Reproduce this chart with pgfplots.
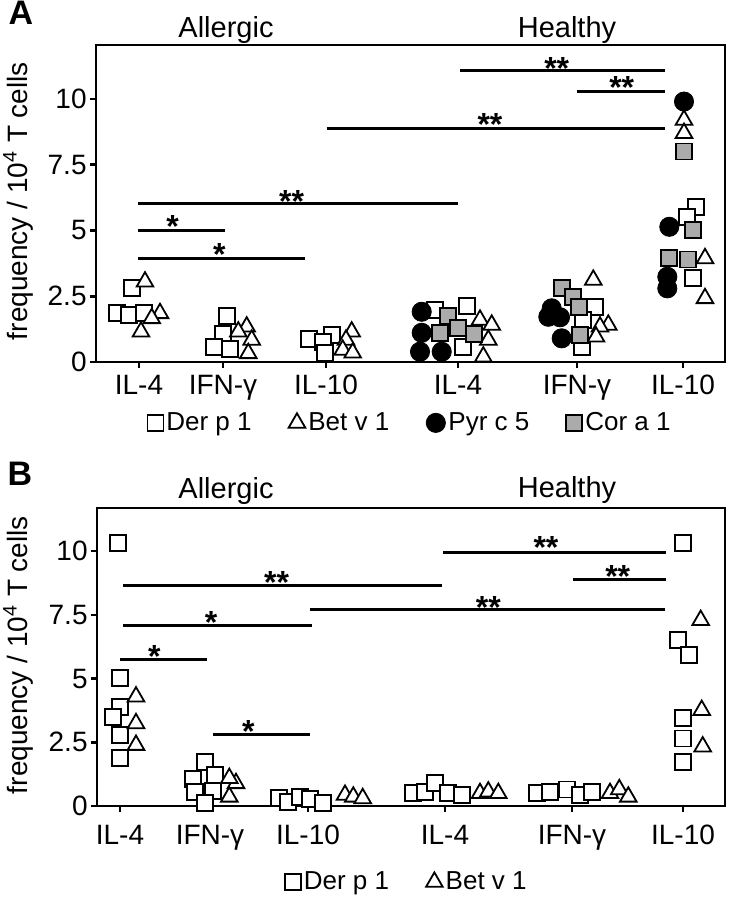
\documentclass[border=0pt]{standalone}
\usepackage{fontspec}
\setmainfont{Liberation Sans}
\usepackage{pgfplots}
\pgfplotsset{compat=1.18}
\newcommand{\fs}{\fontsize{14}{16}\selectfont}
\newcommand{\lfs}{\fontsize{13}{15}\selectfont}
\newcommand{\sfs}{\fontsize{16}{18}\selectfont\bfseries}
\pgfplotsset{
  panel/.style={
    scale only axis, clip=false,
    axis line style={line width=1.3pt},
    tick style={line width=1.3pt, black},
    major tick length=3pt, tick align=outside, tick pos=left,
    ymin=0, ytick={0,2.5,5,7.5,10}, yticklabels={0,2.5,5,7.5,10},
    xticklabels={IL-4,IFN-γ,IL-10,IL-4,IFN-γ,IL-10},
    tick label style={font=\fs},
    yticklabel style={inner sep=1.5pt},
    legend style={draw=none, font=\lfs, nodes={inner sep=1.5pt}},
    legend image code/.code={\draw[mark repeat=2,mark phase=2,##1] plot coordinates {(0cm,0cm) (0.16cm,0cm) (0.32cm,0cm)};},
    /tikz/every even column/.append style={column sep=17pt},
  },
  sq/.style={only marks, mark=square*, mark size=4pt, mark options={fill=white, draw=black, line width=0.9pt}},
  tri/.style={only marks, mark=triangle*, mark size=4.8pt, mark options={fill=white, draw=black, line width=0.9pt}},
  circ/.style={only marks, mark=*, mark size=4.8pt, mark options={fill=black, draw=black}},
  chk/.style={only marks, mark=square*, mark size=4pt, mark options={fill=black!33, draw=black, line width=0.9pt}},
  sig/.style={no marks, line width=1.5pt, black, forget plot},
  frame/.style={no marks, line width=1.4pt, black, forget plot, line join=miter},
}
\begin{document}
\begin{tikzpicture}
\useasboundingbox (0,0) rectangle (367pt,-450pt);
% ---------------- Panel A ----------------
\begin{axis}[panel, at={(48pt,-22.5pt)}, anchor=north west,
  width=314.5pt, height=158.5pt,
  xmin=96, xmax=725, ymax=12.05,
  xtick={139,223,326,458,577,683},
  legend columns=4,
  legend style={at={(0.5,-0.192)}, anchor=center}]
\addlegendimage{sq}\addlegendentry{Der p 1}
\addlegendimage{tri}\addlegendentry{Bet v 1}
\addlegendimage{circ}\addlegendentry{Pyr c 5}
\addlegendimage{chk}\addlegendentry{Cor a 1}
\addplot[frame] coordinates {(96,0) (96,12.05) (725,12.05) (725,0) (96,0)};
% Der p 1
\addplot[sq, forget plot] coordinates {(131.7,2.80) (117.3,1.87) (129,1.79) (144,1.85) (226.7,1.75) (223.3,1.06) (214,0.58) (230,0.48) (309.3,0.86) (331.7,1.03) (323.3,0.77) (325,0.35)
 (435,1.98) (467.3,2.13) (463.3,0.58) (595,2.10) (582.7,1.60) (581.7,0.58) (696,5.88) (686.7,5.52) (692.7,3.18)};
% Bet v 1
\addplot[tri, forget plot] coordinates {(145,3.05) (160,1.85) (151.7,1.66) (141,1.15) (246.7,1.34) (238.3,1.15) (251.7,0.84) (248.3,0.33) (351.7,1.15) (346,0.84) (342.7,0.46) (352.7,0.35)
 (480,1.60) (491.7,1.41) (488.3,0.84) (483.3,0.20) (593.3,3.12) (608.3,1.41) (600,1.34) (596,0.96) (684,9.20) (684,8.70) (705,3.94) (705,2.42)};
% Cor a 1
\addplot[chk, forget plot] coordinates {(447.7,1.75) (458.3,1.28) (440,1.09) (474,1.06) (561.7,2.80) (573.3,2.48) (579.3,2.10) (580,1.03) (684,8.00) (693.3,5.02) (669.3,3.94) (688.3,3.90)};
% Pyr c 5
\addplot[circ, forget plot] coordinates {(421.7,1.91) (421.7,1.11) (420,0.39) (441.7,0.39) (551.7,2.04) (548.3,1.72) (560,1.70) (561.7,0.90) (684,9.90) (669.3,5.14) (667.3,3.24) (667.3,2.80)};
% significance
\addplot[sig] coordinates {(138,6.01) (458,6.01)};
\addplot[sig] coordinates {(138,4.99) (225,4.99)};
\addplot[sig] coordinates {(138,3.93) (305,3.93)};
\addplot[sig] coordinates {(326.7,8.89) (665,8.89)};
\addplot[sig] coordinates {(460,11.08) (665,11.08)};
\addplot[sig] coordinates {(576.7,10.30) (665,10.30)};
\node[font=\sfs, anchor=base] at (axis cs:291.7,5.70) {**};
\node[font=\sfs, anchor=base] at (axis cs:172.7,4.75) {*};
\node[font=\sfs, anchor=base] at (axis cs:219.3,3.67) {*};
\node[font=\sfs, anchor=base] at (axis cs:490,8.62) {**};
\node[font=\sfs, anchor=base] at (axis cs:556.7,10.75) {**};
\node[font=\sfs, anchor=base] at (axis cs:621.7,10.01) {**};
\end{axis}
% ---------------- Panel B ----------------
\begin{axis}[panel, at={(48.5pt,-254pt)}, anchor=north west,
  width=314pt, height=149pt,
  xmin=97, xmax=725, ymax=11.69,
  xtick={120,210,308,445,572,683},
  xticklabel style={yshift=-3pt},
  legend columns=2,
  legend style={at={(0.494,-0.255)}, anchor=center}]
\addlegendimage{sq}\addlegendentry{Der p 1}
\addlegendimage{tri}\addlegendentry{Bet v 1}
\addplot[frame] coordinates {(97,0) (97,11.69) (725,11.69) (725,0) (97,0)};
\addplot[sq, forget plot] coordinates {(118.3,10.33) (120,5.01) (120,3.89) (112.7,3.50) (120,2.78) (120,1.87) (205,1.74) (193.3,1.05) (215,1.22) (195,0.56) (213.3,0.60) (205,0.11) (279.3,0.30) (288.3,0.17) (300,0.36) (310,0.26) (323.3,0.13)
 (413.3,0.50) (425,0.56) (435,0.89) (448.3,0.50) (461.7,0.43) (537.3,0.50) (550,0.56) (566.7,0.65) (580,0.43) (591.7,0.56) (683.3,10.33) (677.7,6.51) (689.3,5.92) (683.3,3.44) (683.3,2.65) (683.3,1.74)};
\addplot[tri, forget plot] coordinates {(136,4.29) (136,3.24) (136,2.39) (236,0.89) (229.3,1.09) (229.3,0.36) (345,0.43) (353.3,0.36) (362.7,0.30) (480,0.50) (488.3,0.56) (498.3,0.50) (610,0.50) (619.3,0.65) (628.3,0.36) (700.7,7.29) (701.7,3.76) (702.7,2.33)};
\addplot[sig] coordinates {(123.3,8.65) (441.7,8.65)};
\addplot[sig] coordinates {(123.3,7.07) (311.7,7.07)};
\addplot[sig] coordinates {(120,5.73) (206.7,5.73)};
\addplot[sig] coordinates {(212.7,2.81) (310,2.81)};
\addplot[sig] coordinates {(310,7.69) (665,7.69)};
\addplot[sig] coordinates {(443.3,9.95) (666,9.95)};
\addplot[sig] coordinates {(572.7,8.90) (666,8.90)};
\node[font=\sfs, anchor=base] at (axis cs:276.7,8.32) {**};
\node[font=\sfs, anchor=base] at (axis cs:211,6.76) {*};
\node[font=\sfs, anchor=base] at (axis cs:154.3,5.45) {*};
\node[font=\sfs, anchor=base] at (axis cs:248.3,2.51) {*};
\node[font=\sfs, anchor=base] at (axis cs:488.3,7.35) {**};
\node[font=\sfs, anchor=base] at (axis cs:546,9.70) {**};
\node[font=\sfs, anchor=base] at (axis cs:617.7,8.59) {**};
\end{axis}
% ---------------- texts ----------------
\begin{scope}[x=0.5pt, y=-0.5pt]
\node[font=\fontsize{17}{19}\selectfont\bfseries, anchor=base] at (21,24) {A};
\node[font=\fontsize{17}{19}\selectfont\bfseries, anchor=base] at (20,485) {B};
\node[font=\fontsize{14.5}{16}\selectfont, anchor=base] at (226,37) {Allergic};
\node[font=\fontsize{14.5}{16}\selectfont, anchor=base] at (567,37) {Healthy};
\node[font=\fontsize{14.5}{16}\selectfont, anchor=base] at (226,498) {Allergic};
\node[font=\fontsize{14.5}{16}\selectfont, anchor=base] at (567,497) {Healthy};
\node[font=\fs, rotate=90] at (18,201) {frequency / 10\textsuperscript{4} T cells};
\node[font=\fs, rotate=90] at (18,655) {frequency / 10\textsuperscript{4} T cells};
\end{scope}
\end{tikzpicture}
\end{document}
